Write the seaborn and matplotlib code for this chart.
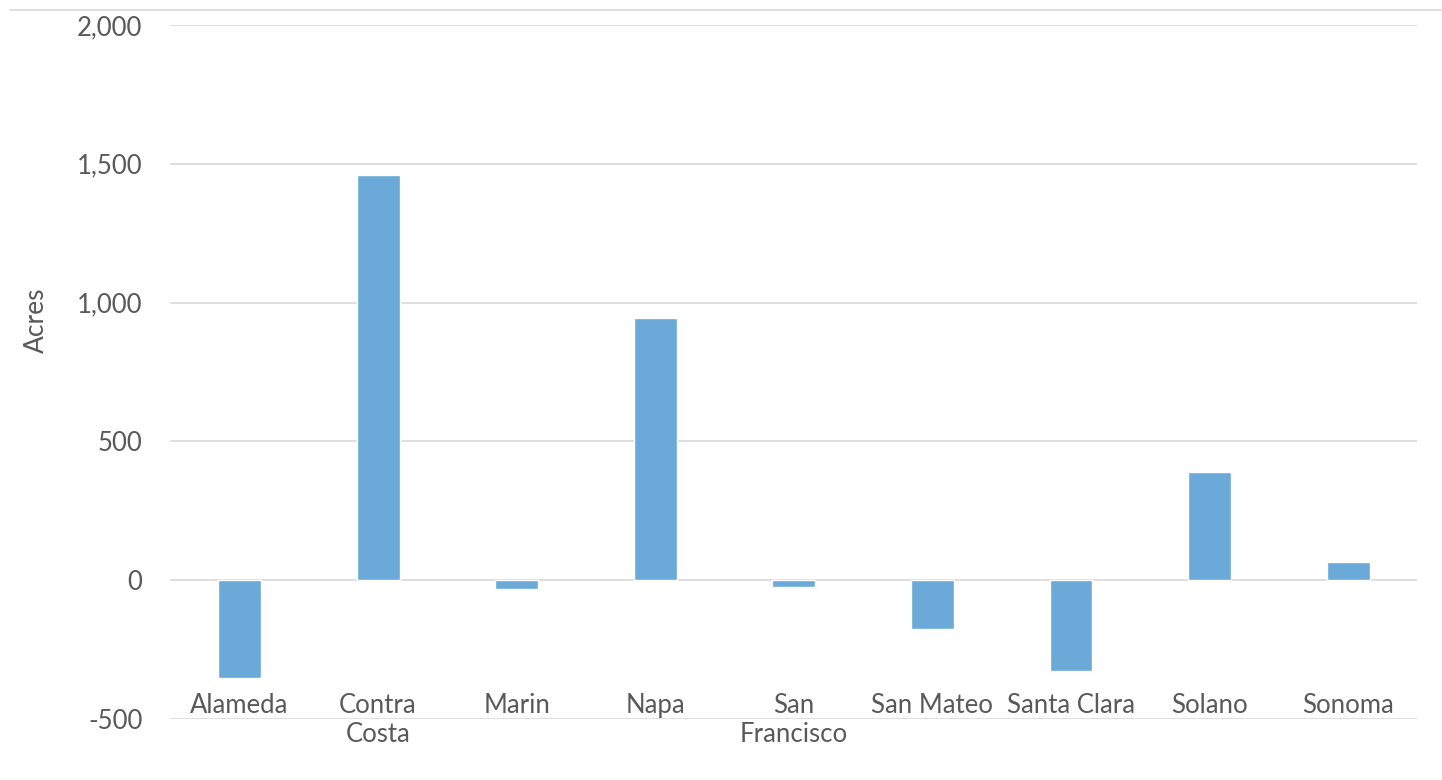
import matplotlib
matplotlib.use("Agg")
from matplotlib import pyplot as plt
from matplotlib.lines import Line2D
import seaborn as sns
import pandas as pd

counties = ['Alameda', 'Contra\nCosta', 'Marin', 'Napa', 'San\nFrancisco',
            'San Mateo', 'Santa Clara', 'Solano', 'Sonoma']
acres = [-350, 1460, -32, 945, -25, -177, -328, 390, 65]
y_ticks = [-500, 0, 500, 1000, 1500, 2000]

df = pd.DataFrame({'county': counties, 'acres': acres})

sns.set_style('white')
plt.rcParams['font.family'] = ['Lato', 'DejaVu Sans']
text_color = '#595959'
grid_color = '#d9d9d9'

fig = plt.figure(figsize=(14.42, 7.8), dpi=100)
ax = fig.add_axes([0.118, 0.078, 0.865, 0.890])

sns.barplot(data=df, x='county', y='acres', color='#6baad8', width=0.31,
            saturation=1, ax=ax, zorder=3)

ax.set_ylim(-500, 2000)
ax.set_xlim(-0.5, len(counties) - 0.5)
ax.set_yticks(y_ticks)
ax.set_yticklabels([f'{v:,}' for v in y_ticks])
ax.yaxis.grid(True, color=grid_color, linewidth=1.2, zorder=0)
ax.set_axisbelow(True)
for s in ax.spines.values():
    s.set_visible(False)

ax.tick_params(axis='y', length=0, pad=20, labelsize=18.5, labelcolor=text_color)
ax.tick_params(axis='x', length=0, pad=-19, labelsize=18.5, labelcolor=text_color)
for lbl in ax.get_xticklabels():
    lbl.set_verticalalignment('top')
    lbl.set_linespacing(1.2)

ax.set_xlabel('')
ax.set_ylabel('Acres', fontsize=19, color=text_color)
ax.yaxis.set_label_coords(-0.097, 0.575)

# chart frame line at top
fig.add_artist(Line2D([0.007, 1.0], [0.987, 0.987], color=grid_color,
                      linewidth=1.2, transform=fig.transFigure))

fig.savefig('out.png', dpi=100)
